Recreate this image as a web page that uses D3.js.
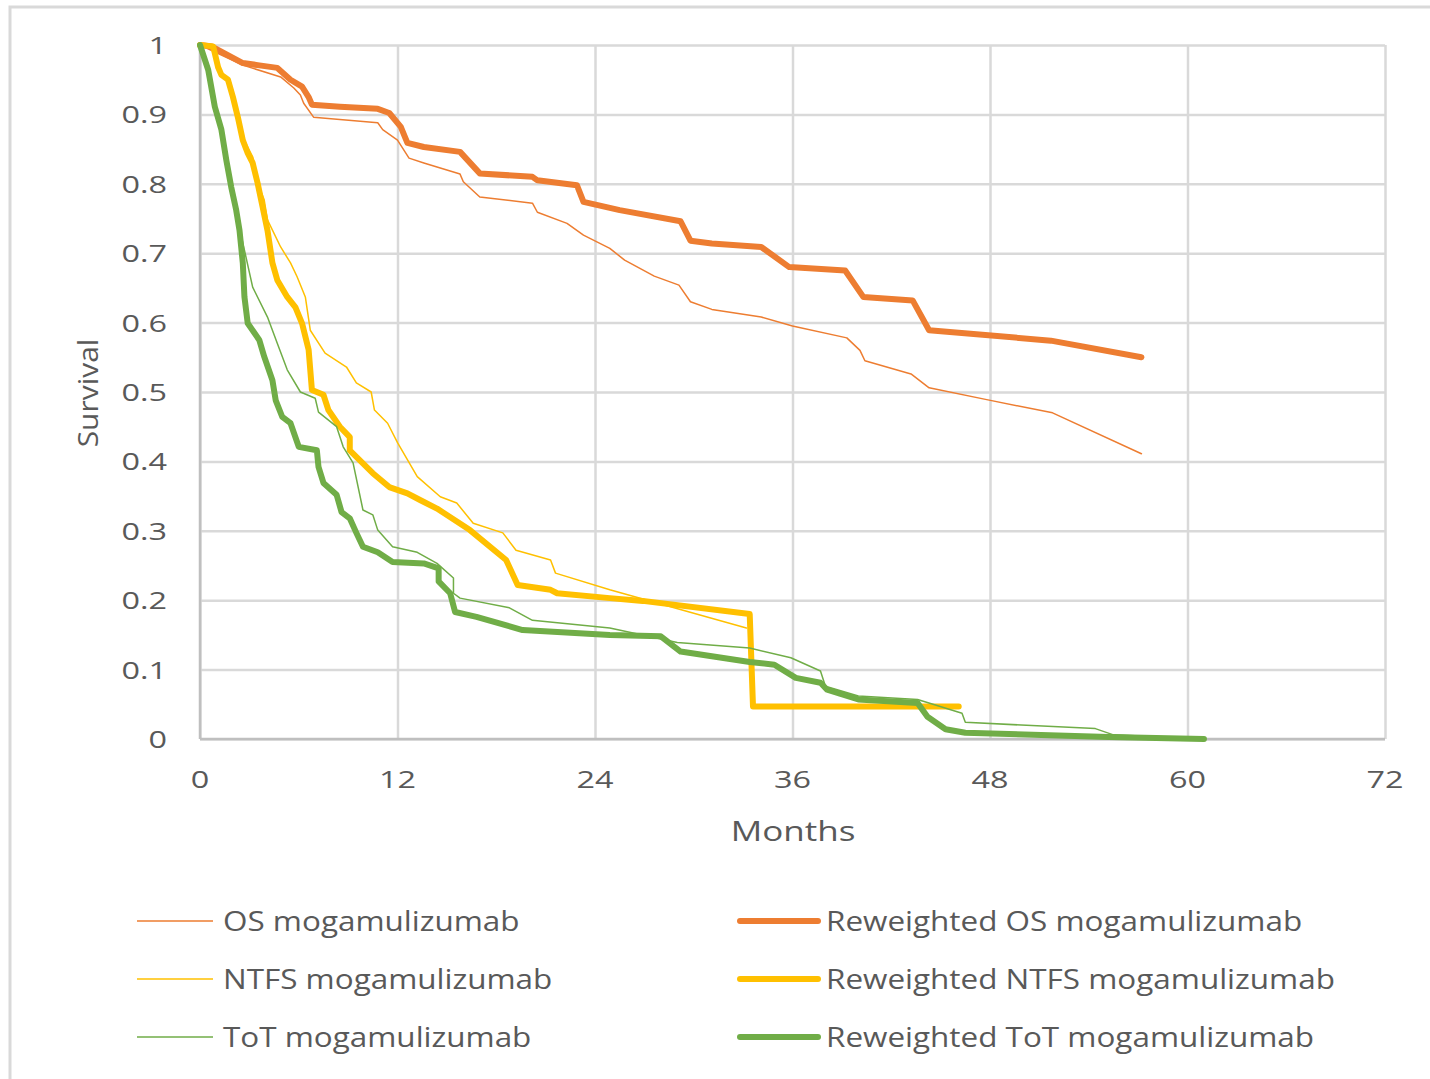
<!DOCTYPE html>
<html>
<head>
<meta charset="utf-8">
<script src="https://cdn.jsdelivr.net/npm/d3@7"></script>
<style>
  body { margin: 0; background: #fff; }
  text { font-family: "Open Sans", "Noto Sans", sans-serif; fill: #595959; }
</style>
</head>
<body>
<svg id="chart" width="1430" height="1079"></svg>
<script>
// ---- data (months, survival) ----
var osMonths   = [0, 2.6, 4.9, 5.7, 6.1, 6.3, 6.9, 10.8, 11.1, 12.0, 12.7, 13.6, 15.8, 16.0, 17.0, 20.2, 20.5, 22.3, 23.3, 24.9, 25.8, 27.6, 29.1, 29.8, 31.1, 34.1, 36.0, 39.3, 40.1, 40.4, 43.2, 44.3, 47.8, 51.8, 57.2];
var osSurv     = [1, 0.971, 0.954, 0.938, 0.928, 0.916, 0.896, 0.888, 0.878, 0.863, 0.837, 0.830, 0.814, 0.803, 0.781, 0.772, 0.759, 0.743, 0.726, 0.707, 0.690, 0.667, 0.654, 0.630, 0.619, 0.608, 0.595, 0.578, 0.560, 0.545, 0.526, 0.506, 0.489, 0.470, 0.411];

var rwOsMonths = [0, 0.7, 2.6, 3.5, 4.7, 5.5, 6.2, 6.6, 6.8, 8.5, 10.8, 11.5, 12.2, 12.6, 13.6, 15.8, 17.0, 20.2, 20.5, 22.9, 23.3, 25.5, 29.2, 29.8, 31.1, 34.1, 35.8, 39.2, 40.3, 43.3, 44.3, 51.7, 57.2];
var rwOsSurv   = [1, 0.998, 0.974, 0.971, 0.967, 0.950, 0.940, 0.925, 0.914, 0.911, 0.908, 0.902, 0.882, 0.859, 0.853, 0.846, 0.815, 0.810, 0.805, 0.798, 0.774, 0.762, 0.746, 0.718, 0.714, 0.709, 0.680, 0.675, 0.637, 0.632, 0.589, 0.574, 0.550];

var ntfsMonths = [0, 0.8, 1.1, 1.3, 1.7, 2.0, 2.3, 2.6, 3.2, 3.6, 3.9, 4.1, 4.9, 5.5, 5.9, 6.4, 6.7, 7.6, 8.9, 9.5, 10.4, 10.6, 11.4, 12.0, 13.2, 14.6, 15.6, 16.6, 18.4, 19.2, 21.3, 21.6, 24.9, 33.2];
var ntfsSurv   = [1, 0.998, 0.968, 0.957, 0.950, 0.925, 0.896, 0.867, 0.839, 0.795, 0.777, 0.748, 0.709, 0.686, 0.666, 0.637, 0.589, 0.556, 0.536, 0.513, 0.500, 0.474, 0.455, 0.427, 0.378, 0.349, 0.340, 0.311, 0.297, 0.272, 0.258, 0.239, 0.215, 0.160];

var rwNtfsMonths = [0, 0.8, 1.1, 1.3, 1.7, 2.0, 2.3, 2.6, 2.9, 3.2, 3.5, 3.8, 4.1, 4.4, 4.7, 5.3, 5.8, 6.2, 6.6, 6.8, 7.5, 7.8, 8.5, 9.1, 9.1, 10.5, 11.5, 12.6, 13.4, 14.4, 16.4, 18.6, 19.3, 21.3, 21.7, 24.9, 26.9, 33.4, 33.6, 46.1];
var rwNtfsSurv   = [1, 0.998, 0.968, 0.957, 0.950, 0.925, 0.896, 0.863, 0.844, 0.830, 0.801, 0.767, 0.733, 0.686, 0.661, 0.637, 0.622, 0.599, 0.561, 0.503, 0.496, 0.474, 0.450, 0.435, 0.416, 0.383, 0.363, 0.354, 0.344, 0.332, 0.301, 0.258, 0.222, 0.215, 0.210, 0.203, 0.199, 0.180, 0.047, 0.047];

var totMonths = [0, 0.5, 0.9, 1.3, 1.6, 1.9, 2.2, 2.6, 3.2, 4.1, 4.7, 5.3, 6.1, 7.0, 7.2, 8.3, 8.7, 9.3, 9.9, 10.5, 10.8, 11.7, 13.2, 14.4, 15.4, 15.4, 15.8, 18.8, 20.2, 24.9, 29.0, 33.4, 35.9, 37.7, 38.0, 40.0, 43.6, 46.3, 46.5, 54.4, 55.5, 61.0];
var totSurv   = [1, 0.964, 0.911, 0.878, 0.834, 0.795, 0.762, 0.715, 0.651, 0.608, 0.570, 0.532, 0.500, 0.491, 0.471, 0.450, 0.421, 0.398, 0.330, 0.323, 0.301, 0.277, 0.269, 0.253, 0.232, 0.210, 0.203, 0.189, 0.171, 0.160, 0.139, 0.131, 0.117, 0.098, 0.076, 0.062, 0.057, 0.037, 0.024, 0.015, 0.006, 0.000];

var rwTotMonths = [0, 0.5, 0.9, 1.3, 1.6, 1.9, 2.2, 2.4, 2.6, 2.7, 2.9, 3.6, 3.9, 4.4, 4.6, 5.0, 5.5, 6.0, 7.1, 7.2, 7.5, 8.3, 8.6, 9.1, 9.5, 9.9, 10.8, 11.7, 13.6, 14.5, 14.5, 15.2, 15.5, 16.8, 19.6, 24.9, 28.0, 29.2, 33.4, 34.9, 36.2, 37.7, 38.1, 40.0, 43.6, 44.2, 45.3, 46.5, 55.2, 61.0];
var rwTotSurv   = [1, 0.964, 0.911, 0.878, 0.834, 0.795, 0.762, 0.733, 0.686, 0.637, 0.599, 0.575, 0.551, 0.517, 0.488, 0.464, 0.455, 0.421, 0.416, 0.392, 0.369, 0.352, 0.327, 0.318, 0.297, 0.277, 0.269, 0.255, 0.253, 0.246, 0.227, 0.210, 0.183, 0.176, 0.157, 0.150, 0.148, 0.126, 0.111, 0.107, 0.088, 0.081, 0.071, 0.057, 0.052, 0.032, 0.014, 0.009, 0.003, 0.000];

var xTicks = [0, 12, 24, 36, 48, 60, 72];
var yTicks = [0, 0.1, 0.2, 0.3, 0.4, 0.5, 0.6, 0.7, 0.8, 0.9, 1];

var series = [
  { name: "OS mogamulizumab", m: osMonths, s: osSurv, color: "#ED7D31", width: 1.5 },
  { name: "Reweighted OS mogamulizumab", m: rwOsMonths, s: rwOsSurv, color: "#ED7D31", width: 6 },
  { name: "NTFS mogamulizumab", m: ntfsMonths, s: ntfsSurv, color: "#FFC000", width: 1.5 },
  { name: "Reweighted NTFS mogamulizumab", m: rwNtfsMonths, s: rwNtfsSurv, color: "#FFC000", width: 6 },
  { name: "ToT mogamulizumab", m: totMonths, s: totSurv, color: "#70AD47", width: 1.5 },
  { name: "Reweighted ToT mogamulizumab", m: rwTotMonths, s: rwTotSurv, color: "#70AD47", width: 6 }
];

// ---------------------------------------------------------------------------

var svg = d3.select("#chart");

// outer chart frame
svg.append("rect")
  .attr("x", 10).attr("y", 7).attr("width", 1440).attr("height", 1100)
  .attr("fill", "none").attr("stroke", "#d9d9d9").attr("stroke-width", 3);

var xScale = d3.scaleLinear().domain([0, 72]).range([200, 1385]);
var yScale = d3.scaleLinear().domain([0, 1]).range([739, 45]);

// gridlines
svg.append("g")
  .attr("transform", "translate(0,739)")
  .call(d3.axisBottom(xScale).tickValues(xTicks).tickSize(-694).tickFormat(""))
  .call(g => g.select(".domain").remove())
  .call(g => g.selectAll("line").attr("stroke", "#d9d9d9").attr("stroke-width", 2.5));
svg.append("g")
  .attr("transform", "translate(200,0)")
  .call(d3.axisLeft(yScale).tickValues(yTicks).tickSize(-1185).tickFormat(""))
  .call(g => g.select(".domain").remove())
  .call(g => g.selectAll("line").attr("stroke", "#d9d9d9").attr("stroke-width", 2.5));

// axis lines
svg.append("line").attr("x1", 200).attr("x2", 200).attr("y1", 45).attr("y2", 739)
  .attr("stroke", "#bfbfbf").attr("stroke-width", 2.5);
svg.append("line").attr("x1", 200).attr("x2", 1385).attr("y1", 739).attr("y2", 739)
  .attr("stroke", "#bfbfbf").attr("stroke-width", 2.5);

// the reference text is drawn wide, so stretch it horizontally
function wideText(g, x, y, sx, size, anchor, txt) {
  return g.append("text")
    .attr("transform", `translate(${x},${y}) scale(${sx},1)`)
    .attr("text-anchor", anchor).attr("font-size", size)
    .text(txt);
}

// tick labels
var tickG = svg.append("g");
xTicks.forEach(d => wideText(tickG, xScale(d), 788, 1.35, 24, "middle", d));
yTicks.forEach(d => wideText(tickG, 167, yScale(d) + 9, 1.35, 24, "end", d3.format("")(d)));

// axis titles
wideText(svg, 793, 841, 1.25, 28, "middle", "Months");
svg.append("text")
  .attr("transform", "translate(98,393) rotate(-90) scale(1.07,1)")
  .attr("text-anchor", "middle").attr("font-size", 28).text("Survival");

// curves
var line = d3.line()
  .x(d => xScale(d[0]))
  .y(d => yScale(d[1]));

svg.append("g").selectAll("path").data(series).join("path")
  .attr("d", d => line(d.m.map((m, i) => [m, d.s[i]])))
  .attr("fill", "none")
  .attr("stroke", d => d.color)
  .attr("stroke-width", d => d.width)
  .attr("stroke-linejoin", "round")
  .attr("stroke-linecap", "round");

// legend
var legend = svg.append("g").selectAll("g").data(series).join("g")
  .attr("transform", (d, i) => `translate(${i % 2 ? 740 : 137},${921 + Math.floor(i / 2) * 58})`);
legend.append("line")
  .attr("x1", 0).attr("x2", d => d.width > 2 ? 78 : 76)
  .attr("stroke", d => d.color)
  .attr("stroke-width", d => d.width)
  .attr("stroke-linecap", d => d.width > 2 ? "round" : "butt");
legend.append("text")
  .attr("transform", "translate(86,10) scale(1.165,1)")
  .attr("font-size", 27)
  .text(d => d.name);
</script>
</body>
</html>
